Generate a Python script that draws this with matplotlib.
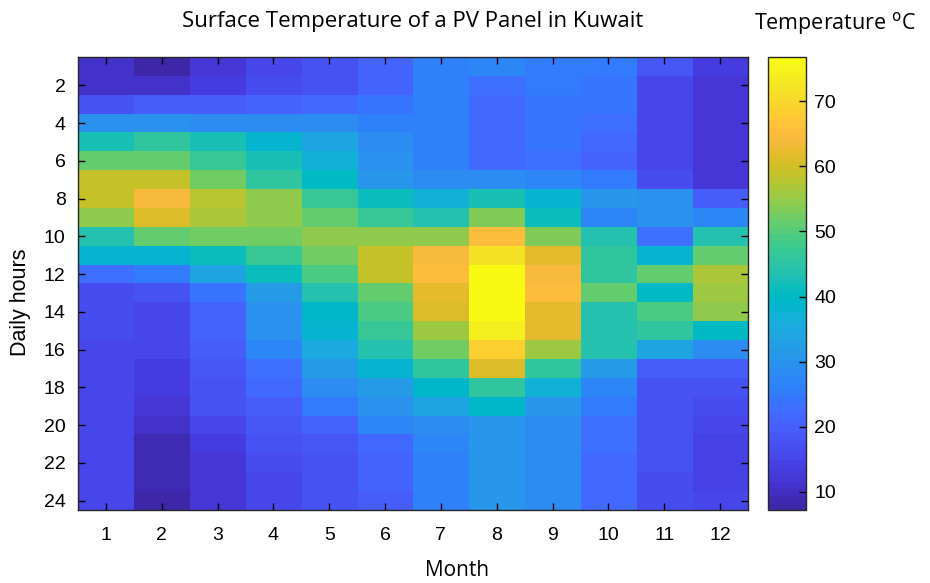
import numpy as np
import matplotlib
matplotlib.use("Agg")
import matplotlib.pyplot as plt
from matplotlib.colors import ListedColormap

# === Data (hour rows 1..24, month columns 1..12) ===
months = list(range(1, 13))
hours = list(range(1, 25))

temps = np.array([
    [11, 8, 12, 15, 17, 21, 26, 27, 25, 25, 19, 13],
    [11, 10.5, 13, 16, 17, 21, 26, 23, 25, 24, 15.5, 12.5],
    [17, 20, 20, 21, 22, 24, 26, 22, 24, 24, 15.5, 12],
    [29, 29, 28, 28, 28, 26, 26, 22, 24, 23, 15.5, 12],
    [43, 46, 42, 38, 34, 28, 26, 22, 24, 22, 15.5, 12],
    [51, 51, 47, 43, 37, 29, 26, 22, 23, 21, 15.5, 12],
    [59, 59, 52, 46, 40, 31, 28, 28, 27, 25, 16, 12.5],
    [59, 64, 58, 54, 47, 41, 37, 43, 38, 31, 29, 19.5],
    [55, 61, 57, 54, 51, 47, 44, 53, 41, 27, 29, 27],
    [44, 51, 52, 52, 54, 54, 54, 65, 53, 44, 23, 44],
    [38, 38, 41, 47, 52, 59, 64, 72, 62, 46, 38, 51],
    [23, 25, 34, 41, 49, 59, 65, 76, 64, 46, 51, 57],
    [16, 18, 24, 32, 44, 51, 62, 76.5, 65, 51, 40, 56],
    [16, 15, 21, 30, 39, 49, 61, 76, 62, 44, 49, 55],
    [16, 15, 21, 30, 38, 47, 56, 74, 62, 44, 46, 40],
    [15.5, 15, 19.5, 27, 35, 44, 52, 69, 56, 44, 34, 28],
    [15, 13, 19, 23, 32, 38, 46, 61, 46, 32, 20, 20],
    [15, 13, 18, 22, 28, 32, 39, 46, 37, 27, 18, 17],
    [15, 12, 17, 20, 25, 30, 34, 39, 31, 25, 18, 16],
    [15, 11.5, 15, 19, 21, 27, 28, 31, 28, 23, 17, 15.5],
    [15, 9, 13, 17, 19, 22, 27, 31, 28, 23, 17, 14.5],
    [15, 8.5, 12, 16, 18, 21, 26, 31, 28, 22, 17, 14.5],
    [15, 8.5, 12, 15.5, 18, 20.5, 26, 31, 28, 22, 16, 14.5],
    [15, 8, 12, 15, 18, 20, 26, 31, 28, 22, 16, 15],
])

cbar_ticks = [10, 20, 30, 40, 50, 60, 70]

# === parula(64) ===
parula_rgb = [
    [0.2422, 0.1504, 0.6603], [0.2504, 0.1650, 0.7076], [0.2578, 0.1818, 0.7511],
    [0.2647, 0.1978, 0.7952], [0.2706, 0.2147, 0.8364], [0.2751, 0.2342, 0.8710],
    [0.2783, 0.2559, 0.8991], [0.2803, 0.2782, 0.9221], [0.2813, 0.3006, 0.9414],
    [0.2810, 0.3228, 0.9579], [0.2795, 0.3447, 0.9717], [0.2760, 0.3667, 0.9829],
    [0.2699, 0.3892, 0.9906], [0.2602, 0.4123, 0.9952], [0.2440, 0.4358, 0.9988],
    [0.2206, 0.4603, 0.9973], [0.1963, 0.4847, 0.9892], [0.1834, 0.5074, 0.9798],
    [0.1786, 0.5289, 0.9682], [0.1764, 0.5499, 0.9520], [0.1687, 0.5703, 0.9359],
    [0.1540, 0.5902, 0.9218], [0.1460, 0.6091, 0.9079], [0.1380, 0.6276, 0.8973],
    [0.1248, 0.6459, 0.8883], [0.1113, 0.6635, 0.8763], [0.0952, 0.6798, 0.8598],
    [0.0689, 0.6948, 0.8394], [0.0297, 0.7082, 0.8163], [0.0036, 0.7203, 0.7917],
    [0.0067, 0.7312, 0.7660], [0.0433, 0.7411, 0.7394], [0.0964, 0.7500, 0.7120],
    [0.1408, 0.7584, 0.6842], [0.1717, 0.7670, 0.6554], [0.1938, 0.7758, 0.6251],
    [0.2161, 0.7843, 0.5923], [0.2470, 0.7918, 0.5567], [0.2906, 0.7973, 0.5188],
    [0.3406, 0.8008, 0.4789], [0.3909, 0.8029, 0.4354], [0.4456, 0.8024, 0.3909],
    [0.5044, 0.7993, 0.3480], [0.5616, 0.7942, 0.3045], [0.6174, 0.7876, 0.2612],
    [0.6720, 0.7793, 0.2227], [0.7242, 0.7698, 0.1910], [0.7738, 0.7598, 0.1646],
    [0.8203, 0.7498, 0.1535], [0.8634, 0.7406, 0.1596], [0.9035, 0.7330, 0.1774],
    [0.9393, 0.7288, 0.2100], [0.9728, 0.7298, 0.2394], [0.9956, 0.7434, 0.2371],
    [0.9970, 0.7659, 0.2199], [0.9952, 0.7893, 0.2028], [0.9892, 0.8136, 0.1885],
    [0.9786, 0.8386, 0.1766], [0.9676, 0.8639, 0.1643], [0.9610, 0.8890, 0.1537],
    [0.9597, 0.9135, 0.1423], [0.9628, 0.9373, 0.1265], [0.9691, 0.9606, 0.1064],
    [0.9769, 0.9839, 0.0805],
]
parula = ListedColormap(parula_rgb, name="parula")

label_font = "Open Sans"
tick_font = "Liberation Sans"

fig = plt.figure(figsize=(9.3, 5.83), dpi=100)
ax = fig.add_axes([78 / 930, 1 - 510 / 583, 670 / 930, 453 / 583])
cax = fig.add_axes([768 / 930, 1 - 510 / 583, 38 / 930, 453 / 583])

im = ax.imshow(temps, cmap=parula, vmin=7.2, vmax=76.8, aspect="auto",
               interpolation="nearest",
               extent=[months[0] - 0.5, months[-1] + 0.5, hours[-1] + 0.5, hours[0] - 0.5])

ax.set_xticks(months)
ax.set_yticks(hours[1::2])
ax.tick_params(direction="in", top=True, right=True, length=5, width=1,
               labelsize=14, pad=9)
ax.tick_params(axis="x", pad=12)
for lab in ax.get_xticklabels() + ax.get_yticklabels():
    lab.set_fontfamily(tick_font)
for sp in ax.spines.values():
    sp.set_linewidth(1)
    sp.set_color("#262626")

# titles and labels placed in figure pixels
fig.text(413 / 930, 1 - 22 / 583, "Surface Temperature of a PV Panel in Kuwait",
         ha="center", va="center", fontfamily=label_font, fontsize=16)
fig.text(457 / 930, 1 - 571 / 583, "Month", ha="center", va="center",
         fontfamily=label_font, fontsize=15)
fig.text(21 / 930, 1 - 302 / 583, "Daily hours", ha="center", va="center",
         rotation=90, fontfamily=tick_font, fontsize=15.5)

cb = fig.colorbar(im, cax=cax, ticks=cbar_ticks)
cb.ax.tick_params(direction="in", length=5, width=1, labelsize=14, pad=6)
for lab in cb.ax.get_yticklabels():
    lab.set_fontfamily(tick_font)
cb.outline.set_linewidth(1)
cb.outline.set_edgecolor("#262626")
fig.text(835 / 930, 1 - 24 / 583, "Temperature $^{\\mathrm{o}}$C", ha="center",
         va="center", fontfamily=label_font, fontsize=15.5)

plt.savefig("out.png", dpi=100)
